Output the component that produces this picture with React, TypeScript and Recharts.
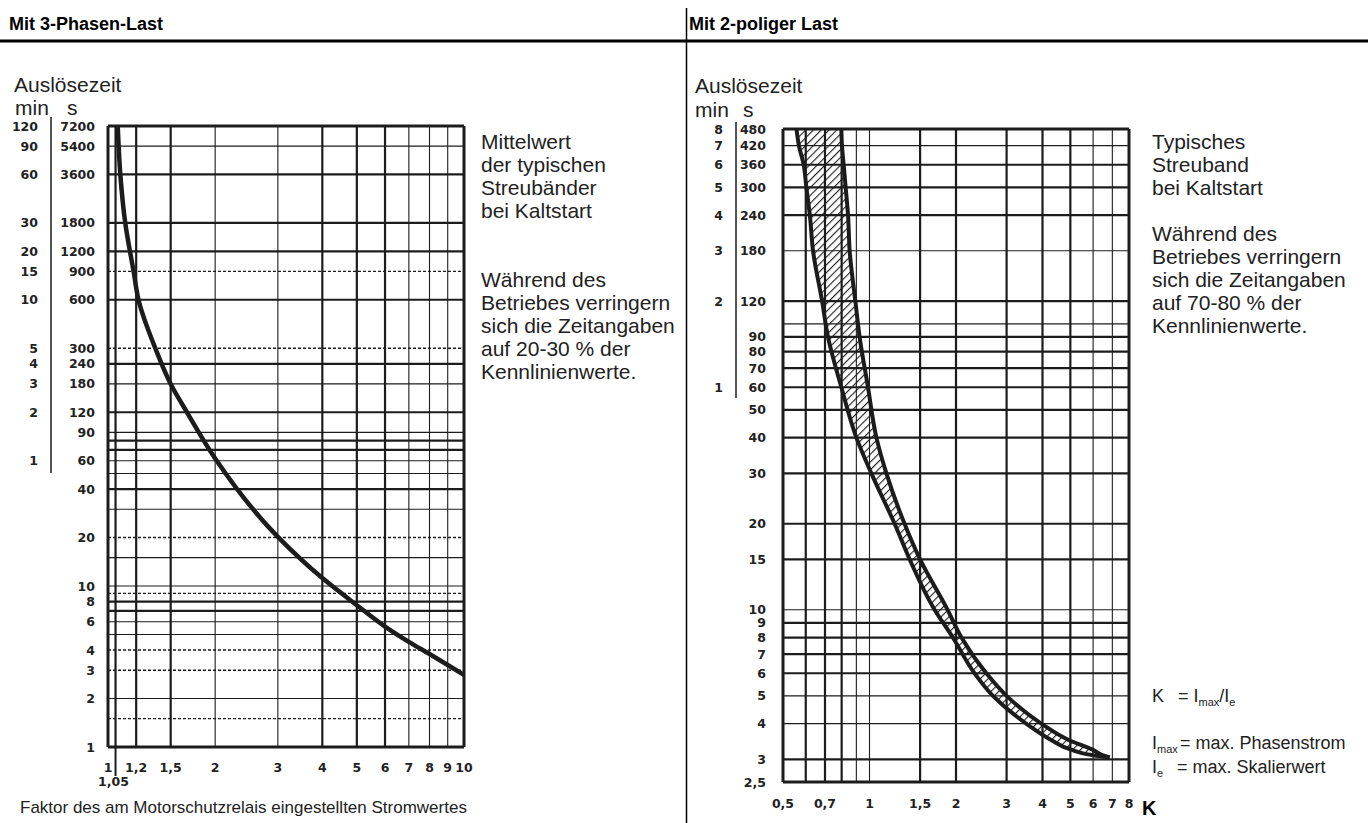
import { Area, ComposedChart, Line, ReferenceLine, XAxis, YAxis } from "recharts"

// Mit 3-Phasen-Last: Auslösezeit (s) -> Faktor
const threePhaseTimes = [7200, 3600, 1800, 900, 600, 300, 180, 120, 62, 20.2, 11.2, 7.6, 5.6, 4.5, 3.78, 3.23, 2.8]
const threePhaseFactor = [1.065, 1.083, 1.118, 1.18, 1.218, 1.358, 1.5, 1.667, 2, 3, 4, 5, 6, 7, 8, 9, 10]

// Mit 2-poliger Last: Streuband, Auslösezeit (s) -> K (untere / obere Grenze)
const bandTimes = [480, 420, 360, 300, 240, 180, 120, 90, 60, 40, 30, 20, 15, 10, 8, 6, 5, 4, 3.5, 3.25, 3.1, 3.05]
const bandLower = [0.557, 0.568, 0.59, 0.603, 0.62, 0.636, 0.684, 0.717, 0.798, 0.9, 1.015, 1.223, 1.38, 1.685, 1.95, 2.32, 2.69, 3.51, 4.3, 5.0, 6.0, 6.85]
const bandUpper = [0.798, 0.802, 0.813, 0.826, 0.842, 0.853, 0.893, 0.924, 0.988, 1.057, 1.145, 1.324, 1.5, 1.87, 2.09, 2.55, 3.0, 3.96, 4.95, 5.95, 6.5, 6.85]

// ticks
const leftXTicks = [1, 1.05, 1.2, 1.5, 2, 3, 4, 5, 6, 7, 8, 9, 10]
const leftSecondTicks = [7200, 5400, 3600, 1800, 1200, 900, 600, 300, 240, 180, 120, 90, 60, 40, 20, 10, 8, 6, 4, 3, 2, 1]
const leftMinuteTicks = [120, 90, 60, 30, 20, 15, 10, 5, 4, 3, 2, 1]
const rightXTicks = [0.5, 0.7, 1, 1.5, 2, 3, 4, 5, 6, 7, 8]
const rightSecondTicks = [480, 420, 360, 300, 240, 180, 120, 90, 80, 70, 60, 50, 40, 30, 20, 15, 10, 9, 8, 7, 6, 5, 4, 3, 2.5]
const rightMinuteTicks = [8, 7, 6, 5, 4, 3, 2, 1]

// grid lines
const leftBorderX = [1, 10]
const leftThickX = [1.05, 1.2, 1.5, 4, 5, 6]
const leftThinX = [2, 3, 7, 8, 9]
const leftBorderY = [1, 7200]
const leftThickY = [3600, 1800, 1200, 600, 240, 120, 80, 70, 40, 8, 7]
const leftThinY = [5400, 180, 90, 60, 50, 30, 15, 10, 6, 5, 2]
const leftDashedY = [900, 300, 20, 9, 4, 3, 1.5]

const rightBorderX = [0.5, 8]
const rightThickX = [0.6, 0.7, 0.8, 1.5, 2, 3, 4, 5]
const rightThinX = [0.9, 1, 6, 7]
const rightBorderY = [2.5, 480]
const rightThickY = [360, 300, 240, 120, 90, 80, 70, 60, 50, 40, 30, 20, 15, 9, 8, 7, 6, 3]
const rightThinY = [420, 180, 100, 10, 5, 4]

const leftNoteLines = ["Mittelwert", "der typischen", "Streubänder", "bei Kaltstart", "", "", "Während des", "Betriebes verringern", "sich die Zeitangaben", "auf 20-30 % der", "Kennlinienwerte."]
const rightNoteLines = ["Typisches", "Streuband", "bei Kaltstart", "", "Während des", "Betriebes verringern", "sich die Zeitangaben", "auf 70-80 % der", "Kennlinienwerte."]

const INK = "#1c1c1c"
const TEXT = "#222"
const SANS = "'Liberation Sans', Arial, Helvetica, sans-serif"
const TICK_FONT = "'DejaVu Sans', Verdana, sans-serif"

const fmt = (v: number) => String(v).replace(".", ",")

function gridLines(xs: number[], ys: number[], width: number, dash?: string) {
  return [
    ...xs.map((x) => (
      <ReferenceLine key={`x${x}-${width}`} x={x} stroke={INK} strokeWidth={width} strokeDasharray={dash} ifOverflow="visible" />
    )),
    ...ys.map((y) => (
      <ReferenceLine key={`y${y}-${width}`} y={y} stroke={INK} strokeWidth={width} strokeDasharray={dash} ifOverflow="visible" />
    )),
  ]
}

function makeSecondsTick(minutes: number[], sRight: number, minRight: number) {
  return (props: any) => {
    const { y, payload } = props
    const v = payload.value as number
    const m = v / 60
    return (
      <g>
        <text x={sRight} y={y} dy="0.36em" textAnchor="end" fontFamily={TICK_FONT} fontWeight="bold" fontSize={12.5} fill={TEXT}>
          {fmt(v)}
        </text>
        {minutes.includes(m) ? (
          <text x={minRight} y={y} dy="0.36em" textAnchor="end" fontFamily={TICK_FONT} fontWeight="bold" fontSize={12.5} fill={TEXT}>
            {fmt(m)}
          </text>
        ) : null}
      </g>
    )
  }
}

function LeftXTick(props: any) {
  const { x, payload } = props
  const v = payload.value as number
  if (v === 1.05) {
    return (
      <g>
        <line x1={x} x2={x} y1={747} y2={776} stroke={INK} strokeWidth={2} />
        <text x={x - 2} y={786} textAnchor="middle" fontFamily={TICK_FONT} fontWeight="bold" fontSize={12.5} fill={TEXT}>
          {fmt(v)}
        </text>
      </g>
    )
  }
  return (
    <text x={x} y={772} textAnchor="middle" fontFamily={TICK_FONT} fontWeight="bold" fontSize={12.5} fill={TEXT}>
      {fmt(v)}
    </text>
  )
}

function RightXTick(props: any) {
  const { x, payload } = props
  return (
    <text x={x} y={808} textAnchor="middle" fontFamily={TICK_FONT} fontWeight="bold" fontSize={12.5} fill={TEXT}>
      {fmt(payload.value)}
    </text>
  )
}

function ThreePhaseChart() {
  const data = threePhaseTimes.map((t, i) => ({ t, k: threePhaseFactor[i] }))
  return (
    <div style={{ position: "absolute", left: 0, top: 0 }}>
      <ComposedChart width={686} height={823} data={data} layout="vertical" margin={{ top: 126, right: 222, bottom: 36, left: 8 }}>
        <XAxis type="number" dataKey="k" scale="log" domain={[1, 10]} allowDataOverflow ticks={leftXTicks} interval={0} tick={LeftXTick} tickLine={false} axisLine={false} height={40} />
        <YAxis
          type="number"
          dataKey="t"
          scale="log"
          domain={[1, 7200]}
          allowDataOverflow
          reversed
          ticks={leftSecondTicks}
          interval={0}
          tick={makeSecondsTick(leftMinuteTicks, 95, 38)}
          tickLine={false}
          axisLine={false}
          width={100}
        />
        {gridLines(leftThinX, leftThinY, 1.1)}
        {gridLines([], leftDashedY, 1.4, "3 2")}
        {gridLines(leftThickX, leftThickY, 2.2)}
        {gridLines(leftBorderX, leftBorderY, 3)}
        <Line dataKey="k" type="monotone" stroke={INK} strokeWidth={4.5} dot={false} activeDot={false} isAnimationActive={false} />
      </ComposedChart>
    </div>
  )
}

function TwoPoleChart() {
  const data = bandTimes.map((t, i) => ({ t, lo: bandLower[i], hi: bandUpper[i], band: [bandLower[i], bandUpper[i]] }))
  return (
    <div style={{ position: "absolute", left: 686, top: 0 }}>
      <ComposedChart width={682} height={823} data={data} layout="vertical" margin={{ top: 129, right: 239, bottom: 11, left: 7 }}>
        <defs>
          <pattern id="hatch" patternUnits="userSpaceOnUse" width={5.5} height={5.5} patternTransform="rotate(45)">
            <line x1={0} y1={0} x2={0} y2={5.5} stroke={INK} strokeWidth={2.2} />
          </pattern>
        </defs>
        <XAxis type="number" dataKey="lo" scale="log" domain={[0.5, 8]} allowDataOverflow ticks={rightXTicks} interval={0} tick={RightXTick} tickLine={false} axisLine={false} height={30} />
        <YAxis
          type="number"
          dataKey="t"
          scale="log"
          domain={[2.5, 480]}
          allowDataOverflow
          reversed
          ticks={rightSecondTicks}
          interval={0}
          tick={makeSecondsTick(rightMinuteTicks, 80, 37)}
          tickLine={false}
          axisLine={false}
          width={90}
        />
        {gridLines(rightThinX, rightThinY, 1.1)}
        {gridLines(rightThickX, rightThickY, 2.2)}
        {gridLines(rightBorderX, rightBorderY, 3)}
        <Area dataKey="band" type="monotone" stroke="none" fill="url(#hatch)" fillOpacity={1} dot={false} activeDot={false} isAnimationActive={false} />
        <Line dataKey="lo" type="monotone" stroke={INK} strokeWidth={4} dot={false} activeDot={false} isAnimationActive={false} />
        <Line dataKey="hi" type="monotone" stroke={INK} strokeWidth={4} dot={false} activeDot={false} isAnimationActive={false} />
      </ComposedChart>
    </div>
  )
}

function Overlay() {
  const t = { fontFamily: SANS, fill: TEXT }
  return (
    <svg width={1368} height={823} style={{ position: "absolute", left: 0, top: 0, pointerEvents: "none" }}>
      {/* Kopfzeile */}
      <text x={9} y={30} {...t} fill="#000" fontSize={18} fontWeight="bold">Mit 3-Phasen-Last</text>
      <text x={689} y={30} {...t} fill="#000" fontSize={18} fontWeight="bold">Mit 2-poliger Last</text>
      <line x1={0} x2={1368} y1={41} y2={41} stroke="#000" strokeWidth={3} />
      <line x1={686.5} x2={686.5} y1={8} y2={823} stroke="#000" strokeWidth={1.5} />

      {/* linke Achsenbeschriftung */}
      <text x={14} y={92} {...t} fontSize={21}>Auslösezeit</text>
      <text x={15} y={115} {...t} fontSize={21}>min</text>
      <text x={67} y={115} {...t} fontSize={21}>s</text>
      <line x1={51} x2={51} y1={117} y2={473} stroke={INK} strokeWidth={1.5} />
      {leftNoteLines.map((s, i) =>
        s ? <text key={i} x={481} y={149 + i * 23} {...t} fontSize={21}>{s}</text> : null
      )}
      <text x={20} y={813} {...t} fontSize={17}>Faktor des am Motorschutzrelais eingestellten Stromwertes</text>

      {/* rechte Achsenbeschriftung */}
      <text x={695} y={93} {...t} fontSize={21}>Auslösezeit</text>
      <text x={695} y={117} {...t} fontSize={21}>min</text>
      <text x={743} y={117} {...t} fontSize={21}>s</text>
      <line x1={736} x2={736} y1={122} y2={398} stroke={INK} strokeWidth={1.5} />
      {rightNoteLines.map((s, i) =>
        s ? <text key={i} x={1152} y={149 + i * 23} {...t} fontSize={21}>{s}</text> : null
      )}

      <text x={1152} y={702} {...t} fontSize={18}>K</text>
      <text x={1178} y={702} {...t} fontSize={18}>
        = I<tspan fontSize={11} dy={4}>max</tspan>
        <tspan dy={-4}>/I</tspan>
        <tspan fontSize={11} dy={4}>e</tspan>
      </text>
      <text x={1152} y={749} {...t} fontSize={18}>
        I<tspan fontSize={11} dy={4}>max</tspan>
      </text>
      <text x={1180} y={749} {...t} fontSize={18}>= max. Phasenstrom</text>
      <text x={1152} y={773} {...t} fontSize={18}>
        I<tspan fontSize={11} dy={4}>e</tspan>
      </text>
      <text x={1177} y={773} {...t} fontSize={18}>= max. Skalierwert</text>
      <text x={1142} y={815} {...t} fill="#000" fontSize={20} fontWeight="bold">K</text>
    </svg>
  )
}

export default function App() {
  return (
    <div style={{ position: "absolute", left: 0, top: 0, width: 1368, height: 823, background: "#fff", overflow: "hidden" }}>
      <ThreePhaseChart />
      <TwoPoleChart />
      <Overlay />
    </div>
  )
}
